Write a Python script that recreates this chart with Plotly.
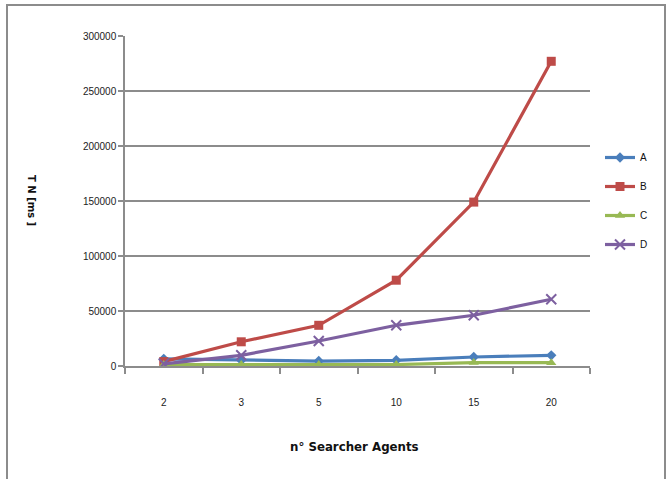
import plotly.graph_objects as go

# Number of searcher agents (categorical x axis)
agents = ["2", "3", "5", "10", "15", "20"]

# TN in milliseconds for each configuration
series_a = [6500, 5200, 4500, 5200, 8200, 9700]
series_b = [4000, 22000, 37000, 78000, 149000, 277000]
series_c = [1300, 1300, 1300, 1300, 3100, 3000]
series_d = [2000, 9700, 22700, 37000, 46100, 60700]

y_ticks = [0, 50000, 100000, 150000, 200000, 250000, 300000]

# Plot-area geometry in pixels
W, H = 668, 479
L, R, T, B = 125, 590, 36, 366

def px_x(x):
    return (x - L) / (R - L)

def px_y(y):
    return (B - y) / (B - T)

fig = go.Figure()

styles = [
    ("A", series_a, "#4A7EBB", "diamond", 8, 0),
    ("B", series_b, "#BE4B48", "square", 9, 0),
    ("C", series_c, "#98B954", "triangle-up", 9, 0),
    ("D", series_d, "#7D60A0", "x-thin", 10, 2),
]

for name, vals, color, symbol, size, lw in styles:
    fig.add_trace(go.Scatter(
        x=agents, y=vals, name=name, mode="lines+markers",
        line=dict(color=color, width=3.2),
        marker=dict(symbol=symbol, size=size, color=color,
                    line=dict(color=color, width=lw)),
        legendgroup=name,
    ))

grid_col = "#8C8C8C"

fig.update_layout(
    width=W, height=H,
    margin=dict(l=L, r=W - R, t=T, b=H - B, pad=0),
    paper_bgcolor="white", plot_bgcolor="white",
    font=dict(family="Liberation Sans, Arial, sans-serif", size=10, color="#222222"),
    showlegend=True,
    legend=dict(
        x=px_x(600), y=px_y(143), xanchor="left", yanchor="top",
        font=dict(size=10, color="#111111"),
        traceorder="grouped", tracegroupgap=10,
        bgcolor="rgba(0,0,0,0)",
    ),
    xaxis=dict(
        type="category", range=[-0.5, 5.5],
        showgrid=False, zeroline=False,
        showline=True, linecolor=grid_col, linewidth=1.5,
        ticks="outside", tickson="boundaries", ticklen=6,
        tickcolor=grid_col, tickwidth=1.5,
        ticklabelstandoff=26,
        tickfont=dict(size=10, color="#222222"),
    ),
    yaxis=dict(
        range=[0, 300000], tickvals=y_ticks,
        ticktext=[str(v) for v in y_ticks],
        showgrid=True, gridcolor=grid_col, gridwidth=1.5,
        zeroline=False,
        showline=True, linecolor=grid_col, linewidth=1.5,
        ticks="outside", ticklen=5, tickcolor=grid_col, tickwidth=1.5,
        tickfont=dict(size=10, color="#222222"),
    ),
)

# Axis titles
title_font = "DejaVu Sans, Verdana, sans-serif"
fig.add_annotation(
    text="<b>n° Searcher Agents</b>", xref="paper", yref="paper",
    x=px_x(354), y=px_y(447), xanchor="center", yanchor="middle",
    showarrow=False, font=dict(family=title_font, size=11.8, color="#111111"),
)
fig.add_annotation(
    text="<b>T N [ms ]</b>", xref="paper", yref="paper",
    x=px_x(32), y=px_y(200), xanchor="center", yanchor="middle",
    showarrow=False, textangle=90,
    font=dict(family=title_font, size=10, color="#111111"),
)

# Chart frame
fig.add_shape(
    type="rect", xref="paper", yref="paper",
    x0=px_x(7), x1=px_x(665), y0=px_y(485), y1=px_y(5),
    line=dict(color="#8C8C8C", width=2), layer="below",
)

fig.write_html("out.html")
